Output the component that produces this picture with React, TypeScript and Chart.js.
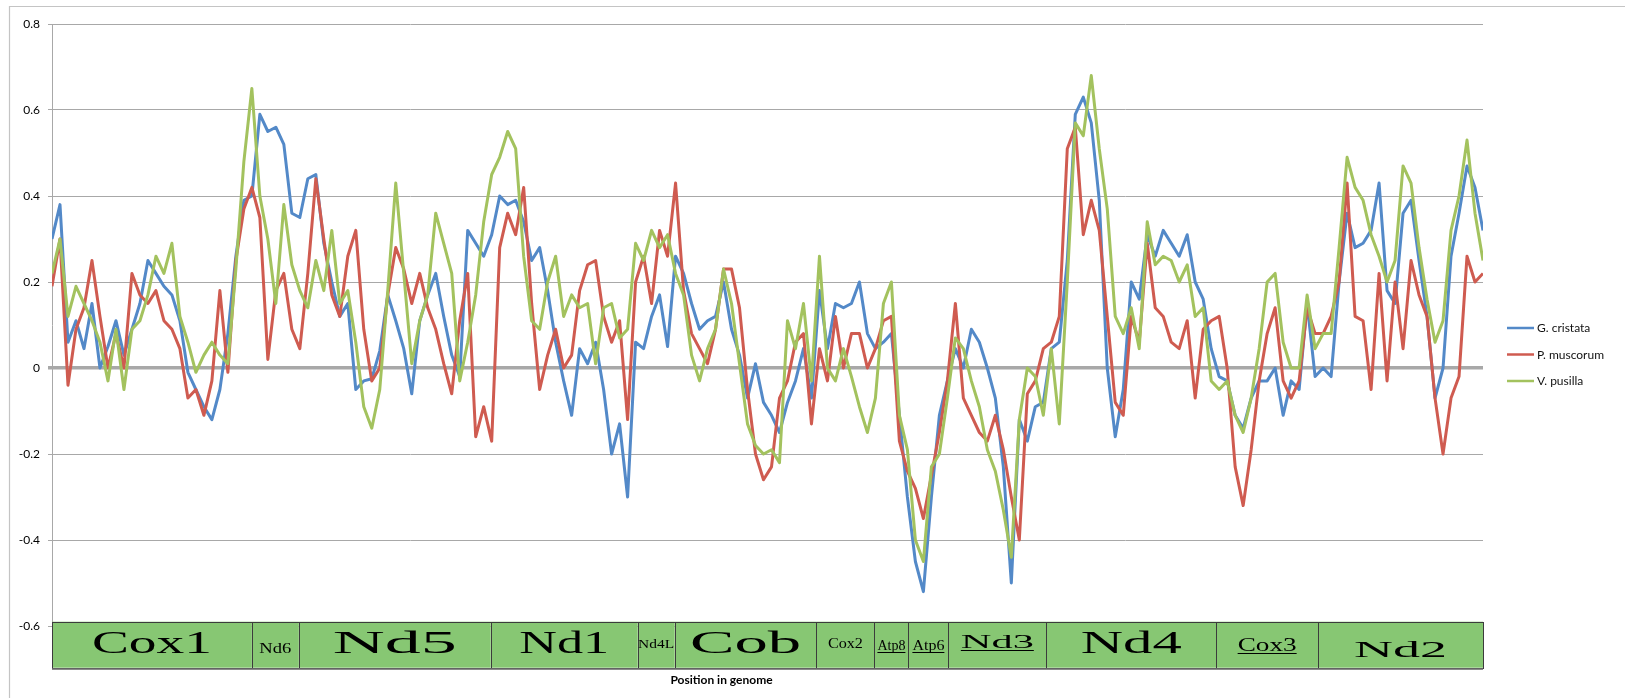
import React, { useEffect, useRef } from "react";
import { Chart, registerables } from "chart.js";

Chart.register(...registerables);

// ---------- data ----------
const seriesNames = ["G. cristata", "P. muscorum", "V. pusilla"];

// sliding-window values, one every 80 positions along the genome
const positionStep = 80;
const genomeLength = 14320;

const gCristata = [
  0.30, 0.38, 0.06, 0.11, 0.045, 0.15, 0.0, 0.05, 0.11, 0.03,
  0.09, 0.15, 0.25, 0.22, 0.19, 0.17, 0.11, -0.01, -0.05, -0.09,
  -0.12, -0.05, 0.08, 0.26, 0.39, 0.40, 0.59, 0.55, 0.56, 0.52,
  0.36, 0.35, 0.44, 0.45, 0.29, 0.20, 0.12, 0.15, -0.05, -0.03,
  -0.025, 0.04, 0.17, 0.11, 0.045, -0.06, 0.11, 0.17, 0.22, 0.12,
  0.03, -0.02, 0.32, 0.29, 0.26, 0.31, 0.40, 0.38, 0.39, 0.34,
  0.25, 0.28, 0.18, 0.06, -0.03, -0.11, 0.045, 0.01, 0.06, -0.05,
  -0.20, -0.13, -0.30, 0.06, 0.045, 0.12, 0.17, 0.05, 0.26, 0.22,
  0.15, 0.09, 0.11, 0.12, 0.20, 0.09, 0.03, -0.07, 0.01, -0.08,
  -0.11, -0.15, -0.08, -0.03, 0.045, -0.07, 0.18, 0.045, 0.15, 0.14,
  0.15, 0.20, 0.08, 0.045, 0.06, 0.08, -0.11, -0.30, -0.45, -0.52,
  -0.30, -0.11, -0.03, 0.045, 0.0, 0.09, 0.06, 0.0, -0.07, -0.23,
  -0.50, -0.12, -0.17, -0.09, -0.08, 0.045, 0.06, 0.25, 0.59, 0.63,
  0.57, 0.39, 0.0, -0.16, -0.05, 0.20, 0.16, 0.31, 0.26, 0.32,
  0.29, 0.26, 0.31, 0.20, 0.16, 0.045, -0.02, -0.03, -0.11, -0.14,
  -0.07, -0.03, -0.03, 0.0, -0.11, -0.03, -0.05, 0.15, -0.02, 0.0,
  -0.02, 0.20, 0.36, 0.28, 0.29, 0.32, 0.43, 0.18, 0.15, 0.36,
  0.39, 0.25, 0.12, -0.07, 0.0, 0.26, 0.36, 0.47, 0.42, 0.32,
];

const pMuscorum = [
  0.19, 0.30, -0.04, 0.09, 0.14, 0.25, 0.12, 0.0, 0.08, 0.0,
  0.22, 0.17, 0.15, 0.18, 0.11, 0.09, 0.045, -0.07, -0.05, -0.11,
  -0.03, 0.18, -0.01, 0.25, 0.37, 0.42, 0.35, 0.02, 0.18, 0.22,
  0.09, 0.045, 0.22, 0.44, 0.30, 0.17, 0.12, 0.26, 0.32, 0.09,
  -0.03, 0.0, 0.17, 0.28, 0.23, 0.15, 0.22, 0.14, 0.09, 0.01,
  -0.06, 0.11, 0.22, -0.16, -0.09, -0.17, 0.28, 0.36, 0.31, 0.42,
  0.15, -0.05, 0.03, 0.09, 0.0, 0.03, 0.18, 0.24, 0.25, 0.12,
  0.06, 0.11, -0.12, 0.20, 0.26, 0.15, 0.32, 0.26, 0.43, 0.18,
  0.08, 0.045, 0.01, 0.09, 0.23, 0.23, 0.14, -0.05, -0.20, -0.26,
  -0.23, -0.07, -0.03, 0.06, 0.08, -0.13, 0.045, -0.03, 0.12, 0.0,
  0.08, 0.08, 0.0, 0.045, 0.11, 0.12, -0.17, -0.24, -0.28, -0.35,
  -0.25, -0.15, -0.03, 0.15, -0.07, -0.11, -0.15, -0.17, -0.11, -0.19,
  -0.30, -0.40, -0.06, -0.03, 0.045, 0.06, 0.12, 0.51, 0.56, 0.31,
  0.39, 0.32, 0.12, -0.08, -0.11, 0.12, 0.06, 0.29, 0.14, 0.12,
  0.06, 0.045, 0.11, -0.07, 0.09, 0.11, 0.12, 0.0, -0.23, -0.32,
  -0.19, -0.03, 0.08, 0.14, -0.03, -0.07, -0.03, 0.14, 0.08, 0.08,
  0.12, 0.20, 0.43, 0.12, 0.11, -0.05, 0.22, -0.03, 0.20, 0.045,
  0.25, 0.17, 0.12, -0.07, -0.20, -0.07, -0.02, 0.26, 0.20, 0.22,
];

const vPusilla = [
  0.22, 0.30, 0.12, 0.19, 0.15, 0.11, 0.06, -0.03, 0.09, -0.05,
  0.09, 0.11, 0.17, 0.26, 0.22, 0.29, 0.12, 0.06, -0.01, 0.03,
  0.06, 0.03, 0.01, 0.23, 0.48, 0.65, 0.40, 0.30, 0.15, 0.38,
  0.24, 0.18, 0.14, 0.25, 0.18, 0.32, 0.15, 0.18, 0.06, -0.09,
  -0.14, -0.05, 0.18, 0.43, 0.22, 0.01, 0.11, 0.17, 0.36, 0.29,
  0.22, -0.03, 0.06, 0.17, 0.34, 0.45, 0.49, 0.55, 0.51, 0.26,
  0.11, 0.09, 0.20, 0.26, 0.12, 0.17, 0.14, 0.15, 0.01, 0.14,
  0.15, 0.07, 0.09, 0.29, 0.25, 0.32, 0.28, 0.31, 0.22, 0.17,
  0.03, -0.03, 0.045, 0.09, 0.23, 0.15, 0.01, -0.13, -0.18, -0.20,
  -0.19, -0.22, 0.11, 0.045, 0.15, -0.03, 0.26, 0.0, -0.03, 0.045,
  -0.02, -0.09, -0.15, -0.07, 0.15, 0.20, -0.11, -0.19, -0.40, -0.45,
  -0.23, -0.20, -0.07, 0.07, 0.045, -0.03, -0.09, -0.19, -0.24, -0.33,
  -0.44, -0.12, 0.0, -0.02, -0.11, 0.045, -0.13, 0.20, 0.57, 0.54,
  0.68, 0.51, 0.37, 0.12, 0.08, 0.14, 0.045, 0.34, 0.24, 0.26,
  0.25, 0.20, 0.24, 0.12, 0.14, -0.03, -0.05, -0.03, -0.11, -0.15,
  -0.07, 0.045, 0.20, 0.22, 0.06, 0.0, 0.0, 0.17, 0.045, 0.08,
  0.08, 0.28, 0.49, 0.42, 0.39, 0.31, 0.26, 0.20, 0.25, 0.47,
  0.43, 0.28, 0.16, 0.06, 0.11, 0.32, 0.40, 0.53, 0.36, 0.25,
];

// gene map along the genome
const geneNames = ["Cox1", "Nd6", "Nd5", "Nd1", "Nd4L", "Cob", "Cox2", "Atp8", "Atp6", "Nd3", "Nd4", "Cox3", "Nd2"];
const geneStarts = [0, 2000, 2470, 4390, 5860, 6230, 7650, 8230, 8570, 8970, 9950, 11650, 12670];
const geneEnds = [2000, 2470, 4390, 5860, 6230, 7650, 8230, 8570, 8970, 9950, 11650, 12670, 14320];

// y axis
const yMin = -0.6;
const yMax = 0.8;
const yStep = 0.2;

// ---------- styles ----------
const seriesColors = ["#5389c8", "#cf5b50", "#a3c25e"];
const geneFontSizes = [32, 15, 32, 31, 13, 32, 14, 14, 14, 19, 31, 19, 24];
const geneLabelWidths = [120, 32, 124, 90, 36, 111, 35, 28, 32, 73, 101, 59, 93];
const geneBaselineOffsets = [31, 31, 31, 31, 26, 31, 26, 28, 28, 26, 31, 29, 35];
const geneUnderline = [false, false, false, false, false, false, false, true, true, true, false, true, false];
const bandTopValue = -0.59;
const bandBottomValue = -0.697;
const xTitlePosition = 6700;

export default function App() {
  const ref = useRef<HTMLCanvasElement | null>(null);

  useEffect(() => {
    const canvas = ref.current;
    if (!canvas) return;
    const allSeries = [gCristata, pMuscorum, vPusilla];
    const toPoints = (vals: number[]) => vals.map((v, i) => ({ x: i * positionStep, y: v }));

    const genePlugin = {
      id: "geneMap",
      beforeDraw(chart: any) {
        const ctx = chart.ctx;
        ctx.save();
        ctx.strokeStyle = "#c4c4c4";
        ctx.lineWidth = 1.2;
        ctx.beginPath();
        ctx.moveTo(9.5, 698);
        ctx.lineTo(9.5, 6.5);
        ctx.lineTo(1625, 6.5);
        ctx.stroke();
        ctx.restore();
      },
      afterDraw(chart: any) {
        const ctx = chart.ctx;
        const xs = chart.scales.x;
        const ys = chart.scales.y;
        const top = ys.getPixelForValue(bandTopValue);
        const bottom = ys.getPixelForValue(bandBottomValue);
        ctx.save();
        for (let i = 0; i < geneNames.length; i++) {
          const x0 = xs.getPixelForValue(geneStarts[i]);
          const x1 = xs.getPixelForValue(geneEnds[i]);
          ctx.fillStyle = "#87c773";
          ctx.fillRect(x0, top, x1 - x0, bottom - top);
        }
        ctx.strokeStyle = "#3c3c3c";
        ctx.lineWidth = 1;
        for (let i = 0; i < geneNames.length; i++) {
          const x0 = Math.round(xs.getPixelForValue(geneStarts[i])) + 0.5;
          const x1 = Math.round(xs.getPixelForValue(geneEnds[i])) + 0.5;
          ctx.strokeRect(x0, Math.round(top) + 0.5, x1 - x0, Math.round(bottom - top));
        }
        // bottom edge
        ctx.strokeStyle = "#8a8a8a";
        ctx.lineWidth = 1.5;
        ctx.beginPath();
        ctx.moveTo(xs.getPixelForValue(0), Math.round(bottom) + 1.2);
        ctx.lineTo(xs.getPixelForValue(genomeLength), Math.round(bottom) + 1.2);
        ctx.stroke();

        // gene labels
        ctx.fillStyle = "#000";
        ctx.strokeStyle = "#000";
        ctx.textAlign = "center";
        ctx.textBaseline = "alphabetic";
        for (let i = 0; i < geneNames.length; i++) {
          const x0 = xs.getPixelForValue(geneStarts[i]);
          const x1 = xs.getPixelForValue(geneEnds[i]);
          const cx = (x0 + x1) / 2;
          const base = Math.round(top) + geneBaselineOffsets[i];
          ctx.font = `${geneFontSizes[i]}px "Liberation Serif", "DejaVu Serif", serif`;
          const w = ctx.measureText(geneNames[i]).width;
          const sx = geneLabelWidths[i] / w;
          ctx.save();
          ctx.translate(cx, base);
          ctx.scale(sx, 1);
          ctx.fillText(geneNames[i], 0, 0);
          ctx.restore();
          if (geneUnderline[i]) {
            ctx.lineWidth = 1;
            ctx.beginPath();
            ctx.moveTo(cx - geneLabelWidths[i] / 2, base + 2.5);
            ctx.lineTo(cx + geneLabelWidths[i] / 2, base + 2.5);
            ctx.stroke();
          }
        }

        // x axis title
        ctx.font = "bold 12px Lato";
        ctx.textAlign = "center";
        ctx.textBaseline = "middle";
        ctx.fillStyle = "#000";
        ctx.fillText("Position in genome", xs.getPixelForValue(xTitlePosition), 680);

        // legend
        const lx = chart.chartArea.right + 24;
        const ly = [328, 354.5, 381];
        ctx.font = "12px Lato";
        ctx.textAlign = "left";
        for (let i = 0; i < seriesNames.length; i++) {
          ctx.strokeStyle = seriesColors[i];
          ctx.lineWidth = 2.5;
          ctx.beginPath();
          ctx.moveTo(lx, ly[i]);
          ctx.lineTo(lx + 27, ly[i]);
          ctx.stroke();
          ctx.fillStyle = "#111";
          ctx.fillText(seriesNames[i], lx + 30, ly[i] + 0.5);
        }
        ctx.restore();
      },
    };

    const chart = new Chart(canvas, {
      type: "line",
      data: {
        datasets: allSeries.map((vals, i) => ({
          label: seriesNames[i],
          data: toPoints(vals),
          borderColor: seriesColors[i],
          backgroundColor: seriesColors[i],
          borderWidth: 3,
          borderJoinStyle: "round",
          pointRadius: 0,
          tension: 0,
          fill: false,
          order: seriesNames.length - 1 - i,
        })),
      },
      options: {
        animation: false,
        responsive: false,
        devicePixelRatio: 1,
        layout: { padding: { top: 24, right: 142, bottom: 72, left: 0 } },
        plugins: {
          legend: { display: false },
          tooltip: { enabled: false },
        },
        scales: {
          x: { type: "linear", min: 0, max: genomeLength, display: false },
          y: {
            min: yMin,
            max: yMax,
            ticks: {
              stepSize: yStep,
              color: "#000",
              font: { family: "Lato", size: 12 },
              padding: 8,
              callback: (v: any) => String(Math.round(Number(v) * 10) / 10),
            },
            grid: {
              color: "#a8a8a8",
              lineWidth: (c: any) => (c.tick && Math.abs(c.tick.value) < 1e-9 ? 3.5 : 1),
              tickLength: 4,
            },
            border: { color: "#a8a8a8", width: 1 },
            afterFit: (s: any) => {
              s.width = 52;
            },
          },
        },
      },
      plugins: [genePlugin],
    } as any);

    return () => chart.destroy();
  }, []);

  return (
    <div style={{ position: "absolute", left: 0, top: 0, width: 1625, height: 698, background: "#fff" }}>
      <canvas ref={ref} width={1625} height={698} style={{ width: 1625, height: 698, display: "block" }} />
    </div>
  );
}
